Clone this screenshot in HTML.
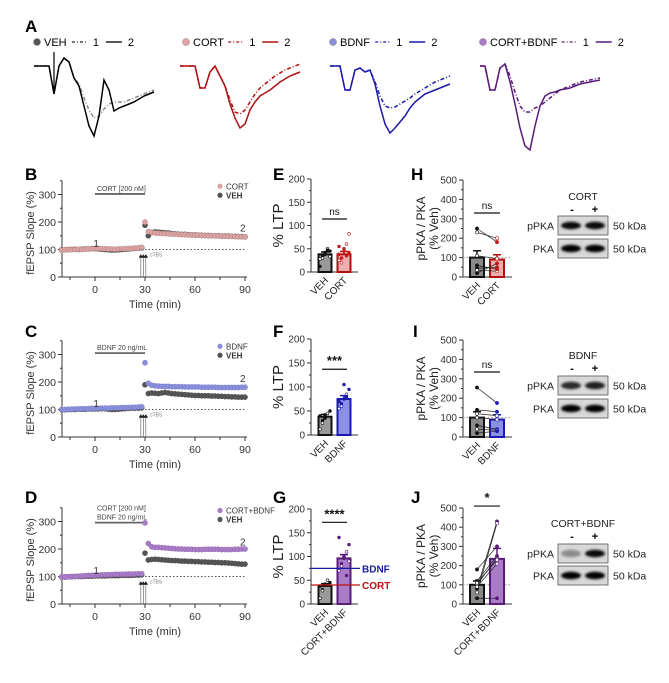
<!DOCTYPE html>
<html><head><meta charset="utf-8"><style>
body{margin:0;background:#fff}
svg{display:block;font-family:"Liberation Sans",Arial,sans-serif}
</style></head><body>
<svg id="fig" width="669" height="683" viewBox="0 0 669 683" xmlns="http://www.w3.org/2000/svg">
<defs><filter id="blur" x="-20%" y="-50%" width="140%" height="200%"><feGaussianBlur stdDeviation="1.3"/></filter></defs>
<g font-weight="bold" font-size="17" fill="#000">
<text x="25" y="32">A</text>
<text x="25" y="180">B</text>
<text x="25" y="337">C</text>
<text x="25" y="503">D</text>
<text x="273" y="180">E</text>
<text x="273" y="337">F</text>
<text x="273" y="503">G</text>
<text x="411" y="180">H</text>
<text x="413" y="337">I</text>
<text x="411" y="503">J</text>
</g>
</svg>
<script>
const NS='http://www.w3.org/2000/svg';
const svg=document.getElementById('fig');
function mk(tag,attrs,parent){const e=document.createElementNS(NS,tag);for(const k in attrs)e.setAttribute(k,attrs[k]);(parent||svg).appendChild(e);return e;}
function txt(x,y,s,attrs,parent){const e=mk('text',Object.assign({x:x,y:y},attrs||{}),parent);e.textContent=s;return e;}

/* ---------- Panel A trace data ---------- */
const traceT=[0,5,10,15,20,25,30,35,40,45,50,55,60,65,70,75,80,85,90,95,100,105,110,115,120];
const vehSolid=[0,0,0,0,-28,0,8,4,-12,-20,-40,-60,-70,-50,-14,-24,-45,-42,-40,-38,-36,-33,-30,-28,-26];
const vehDash=[0,0,0,0,-28,0,8,4,-12,-18,-32,-44,-52,-50,-43,-38,-36,-36,-36,-34,-32,-30,-28,-26,-24];
const cortSolid=[0,0,0,0,-22,-22,-6,0,-10,-20,-38,-52,-62,-58,-44,-36,-30,-27,-24,-20,-16,-13,-10,-8,-6];
const cortDash=[0,0,0,0,-22,-22,-6,0,-10,-20,-34,-46,-48,-44,-36,-28,-22,-18,-14,-10,-7,-4,-2,0,2];
const bdnfSolid=[0,0,0,-24,-24,-4,-2,-6,-4,-18,-40,-58,-67,-62,-56,-50,-42,-36,-32,-28,-26,-24,-22,-20,-18];
const bdnfDash=[0,0,0,-24,-24,-4,-2,-6,-4,-16,-30,-40,-42,-41,-38,-35,-32,-28,-25,-22,-19,-16,-14,-12,-10];
const cbSolid=[0,0,-24,-24,-2,2,-16,-38,-62,-80,-84,-60,-40,-30,-27,-26,-24,-23,-22,-20,-18,-17,-16,-15,-14];
const cbDash=[0,0,-24,-24,-2,2,-10,-26,-40,-46,-46,-42,-40,-36,-32,-28,-24,-22,-20,-18,-16,-15,-14,-13,-12];

function trace(x0,yb,arr,color,dash,name){
  const pts=arr.map((v,i)=>(x0+traceT[i])+','+(yb-v)).join(' ');
  const p=mk('polyline',{points:pts,fill:'none',stroke:color,'stroke-width':1.5,'stroke-dasharray':dash?'4,2,1,2':'none'});
  
  
}
function legendA(x,label,color,dot,name){
  const g=mk('g',{});
  
  
  mk('circle',{cx:x,cy:42,r:3.5,fill:dot,stroke:'#777','stroke-width':0.5},g);
  txt(x+7,46,label,{'font-size':11},g);
  const lx=x+13+label.length*7.3;
  mk('line',{x1:lx,y1:42,x2:lx+16,y2:42,stroke:color,'stroke-width':1.3,'stroke-dasharray':'3,2,1,2'},g);
  txt(lx+21,46,'1',{'font-size':11},g);
  mk('line',{x1:lx+34,y1:42,x2:lx+50,y2:42,stroke:color,'stroke-width':1.5},g);
  txt(lx+56,46,'2',{'font-size':11},g);
}
legendA(37,'VEH','#222','#555','legend-veh');
legendA(186,'CORT','#b01010','#e6a3a3','legend-cort');
legendA(333,'BDNF','#1a1aa8','#8c90dc','legend-bdnf');
legendA(483,'CORT+BDNF','#5a1a7a','#a97cc8','legend-cort-bdnf');
trace(34,66,vehDash,'#888',true,'trace-veh-1');
trace(34,66,vehSolid,'#000',false,'trace-veh-2');
const art=mk('line',{x1:54,y1:52,x2:54,y2:94,stroke:'#000','stroke-width':1.2});


trace(180,66,cortDash,'#b01010',true,'trace-cort-1');
trace(180,66,cortSolid,'#b01010',false,'trace-cort-2');
trace(330,66,bdnfDash,'#1a1aa8',true,'trace-bdnf-1');
trace(330,66,bdnfSolid,'#1a1aa8',false,'trace-bdnf-2');
trace(480,66,cbDash,'#5a1a7a',true,'trace-cb-1');
trace(480,66,cbSolid,'#5a1a7a',false,'trace-cb-2');

/* ---------- Time course data (every 2 min from -20 to 90) ---------- */
const timeMin=[-20,-18,-16,-14,-12,-10,-8,-6,-4,-2,0,2,4,6,8,10,12,14,16,18,20,22,24,26,28,30,32,34,36,38,40,42,44,46,48,50,52,54,56,58,60,62,64,66,68,70,72,74,76,78,80,82,84,86,88,90];
const bCort=[98,99,100,99,100,101,100,101,102,103,104,104,103,103,102,102,101,102,103,103,104,104,105,106,108,200,165,162,160,159,158,158,157,156,156,155,154,154,153,153,152,152,151,151,150,150,150,149,149,149,148,148,147,147,146,146];
const bVeh=[99,99,100,100,101,100,101,102,102,103,103,102,101,100,99,98,98,99,100,101,102,103,104,105,106,188,150,162,164,163,162,161,160,158,157,156,155,155,154,153,153,152,152,151,151,150,150,150,149,149,149,148,148,147,147,146];
const cBdnf=[100,100,101,101,102,102,103,103,103,104,104,104,105,105,105,106,106,106,107,107,107,108,108,109,110,270,195,188,186,185,184,184,184,183,183,183,183,182,182,182,182,182,181,181,181,181,181,180,180,180,180,180,180,180,181,181];
const cVeh=[99,99,100,100,100,101,101,101,102,102,102,102,103,103,101,100,100,101,102,103,104,105,105,105,106,190,158,160,159,158,160,162,160,158,157,156,155,154,153,152,151,151,150,150,150,149,149,148,148,147,147,146,146,145,145,145];
const dCb=[98,99,99,100,100,101,102,103,104,104,105,105,106,106,107,107,108,108,108,108,109,109,109,110,110,295,220,208,206,206,205,204,203,202,201,200,200,199,199,199,198,198,198,199,199,199,199,199,198,198,198,198,199,199,200,200];
const dVeh=[98,98,99,99,100,100,100,101,101,101,102,102,102,102,103,103,103,103,104,104,104,104,105,105,106,185,160,162,163,162,161,160,159,158,158,157,156,156,155,155,154,154,153,153,152,152,151,151,150,150,149,148,147,146,145,145];
const timeTicks=[0,30,60,90];
const minorTicks=[-15,15,45,75];
const slopeTicks=[0,100,200,300];

function tsPanel(cfg){
  const g=mk('g',{});
  
  
  const xs=t=>95+t*50/30, ys=v=>cfg.y0-v*cfg.k;
  const ax=mk('path',{d:`M62,${ys(350)}V${cfg.y0}H247`,fill:'none',stroke:'#333','stroke-width':1},g);
  
  
  slopeTicks.forEach(v=>{
    mk('line',{x1:58,x2:62,y1:ys(v),y2:ys(v),stroke:'#333'},g);
    mk('line',{x1:60,x2:62,y1:ys(v+50),y2:ys(v+50),stroke:'#333'},g);
    const t=txt(56,ys(v)+4,String(v),{'font-size':10.5,'text-anchor':'end',fill:'#333'},g);
    
    
  });
  timeTicks.forEach(v=>{
    mk('line',{x1:xs(v),x2:xs(v),y1:cfg.y0,y2:cfg.y0+4,stroke:'#333'},g);
    const t=txt(xs(v),cfg.y0+16,String(v),{'font-size':10.5,'text-anchor':'middle',fill:'#333'},g);
    
    
  });
  minorTicks.forEach(v=>mk('line',{x1:xs(v),x2:xs(v),y1:cfg.y0,y2:cfg.y0+3,stroke:'#333'},g));
  const xt=txt(155,cfg.y0+31,'Time (min)',{'font-size':11,'text-anchor':'middle',fill:'#333'},g);
  
  
  const yt=txt(0,0,'fEPSP Slope (%)',{'font-size':11,'text-anchor':'middle',fill:'#333',transform:`translate(34,${ys(160)}) rotate(-90)`},g);
  
  
  const dl=mk('line',{x1:xs(30),x2:xs(90),y1:ys(100),y2:ys(100),stroke:'#555','stroke-dasharray':'1.5,2'},g);
  
  
  const db=mk('line',{x1:xs(0),x2:xs(30),y1:ys(cfg.barV),y2:ys(cfg.barV),stroke:'#666','stroke-width':1.8},g);
  
  
  cfg.drug.forEach((s,i)=>{const t=txt(xs(0)+2,ys(cfg.barV)-3-(cfg.drug.length-1-i)*9,s,{'font-size':7,fill:'#444'},g);
    
    });
  [27.5,29,30.5].forEach(t=>{
    mk('line',{x1:xs(t),x2:xs(t),y1:ys(70),y2:cfg.y0,stroke:'#555','stroke-width':0.6},g);
    mk('path',{d:`M${xs(t)-2.2},${ys(70)}L${xs(t)},${ys(83)}L${xs(t)+2.2},${ys(70)}Z`,fill:'#222'},g);
  });
  txt(xs(33),ys(74),'cTBS',{'font-size':5,fill:'#777'},g);
  cfg.series.forEach(s=>{
    const sg=mk('g',{},g);
    
    
    timeMin.forEach((t,i)=>{mk('circle',{cx:xs(t),cy:ys(s.vals[i]),r:2.6,fill:s.fill,stroke:s.stroke,'stroke-width':0.4},sg);});
  });
  const l1=txt(xs(-1),ys(110),'1',{'font-size':10,fill:'#333'},g);
  
  
  const l2=txt(xs(87),ys(cfg.end2),'2',{'font-size':10,fill:'#333'},g);
  
  
  cfg.legend.forEach((l,i)=>{
    const lg=mk('g',{},g);
    
    
    mk('circle',{cx:220,cy:ys(cfg.legY)+i*9,r:2.6,fill:l[1]},lg);
    txt(226,ys(cfg.legY)+i*9+3,l[0],{'font-size':8,fill:'#333','font-weight':i?'bold':'normal'},lg);
  });
}
tsPanel({name:'panel-b-timecourse',y0:277,k:0.275,barV:302,drug:['CORT [200 nM]'],end2:165,legY:330,
  series:[{name:'series-veh',vals:bVeh,fill:'#555',stroke:'#444'},{name:'series-cort',vals:bCort,fill:'#d9a3a3',stroke:'#b07878'}],
  legend:[['CORT','#d9a3a3'],['VEH','#555']]});
tsPanel({name:'panel-c-timecourse',y0:437,k:0.275,barV:305,drug:['BDNF 20 ng/mL'],end2:200,legY:330,
  series:[{name:'series-veh',vals:cVeh,fill:'#555',stroke:'#444'},{name:'series-bdnf',vals:cBdnf,fill:'#8c90dc',stroke:'#6a6ec0'}],
  legend:[['BDNF','#8c90dc'],['VEH','#555']]});
tsPanel({name:'panel-d-timecourse',y0:604,k:0.275,barV:296,drug:['CORT [200 nM]','BDNF 20 ng/mL'],end2:213,legY:340,
  series:[{name:'series-veh',vals:dVeh,fill:'#555',stroke:'#444'},{name:'series-cort-bdnf',vals:dCb,fill:'#a97cc8',stroke:'#8a5aa8'}],
  legend:[['CORT+BDNF','#a97cc8'],['VEH','#555']]});

/* ---------- Bar data ---------- */
const ltpCats=['VEH','CORT','BDNF','CORT+BDNF'];
const ltpMeanE=[38,38];
const ltpSemE=[5,6];
const ltpPtsE=[[28,35,42,50,45,12,30,38,47,33],[25,30,50,60,42,38,20,45,35,82,55,30]];
const ltpMeanF=[38,75];
const ltpSemF=[5,7];
const ltpPtsF=[[12,30,35,45,50,40,25,42],[55,65,75,85,95,70,60,105,80]];
const ltpMeanG=[38,96];
const ltpSemG=[5,8];
const ltpPtsG=[[12,30,40,50,45,38,28,42],[70,85,96,110,125,140,80,100,60,90]];
const ltpTicks=[0,50,100,150,200];
const pkaMeanH=[100,90];
const pkaSemH=[35,25];
const pkaPairsH=[[250,180],[230,200],[45,50],[35,30],[20,70],[110,95],[60,40]];
const pkaMeanI=[100,90];
const pkaSemI=[30,25];
const pkaPairsI=[[255,175],[120,110],[60,40],[40,35],[20,30],[100,90],[140,130]];
const pkaMeanJ=[100,235];
const pkaSemJ=[20,55];
const pkaPairsJ=[[80,430],[60,420],[180,300],[100,240],[120,250],[90,210],[30,30],[110,230]];
const pkaTicks=[0,100,200,300,400,500];

function barPanel(cfg){
  const g=mk('g',{});
  
  
  const ys=v=>cfg.y0-v*cfg.k;
  const ax=cfg.ax, top=cfg.ticks[cfg.ticks.length-1], step=cfg.ticks[1]-cfg.ticks[0];
  const a=mk('path',{d:`M${ax},${ys(top)}V${cfg.y0}H${ax+cfg.w}`,fill:'none',stroke:'#333'},g);
  
  
  cfg.ticks.forEach((v,i)=>{
    mk('line',{x1:ax-4,x2:ax,y1:ys(v),y2:ys(v),stroke:'#333'},g);
    if(i<cfg.ticks.length-1) mk('line',{x1:ax-2,x2:ax,y1:ys(v+step/2),y2:ys(v+step/2),stroke:'#333'},g);
    const t=txt(ax-6,ys(v)+3.5,String(v),{'font-size':10,'text-anchor':'end',fill:'#333'},g);
    
    
  });
  cfg.ylab.forEach((s,i)=>{const t=txt(0,0,s,{'font-size':cfg.ylabSize,'text-anchor':'middle',fill:'#222',transform:`translate(${cfg.ylabX+i*13},${ys(top/2)}) rotate(-90)`},g);
    
    });
  if(cfg.dotted){const d=mk('line',{x1:ax,x2:ax+cfg.w,y1:ys(100),y2:ys(100),stroke:'#999','stroke-dasharray':'1.5,2'},g);
    
    }
  const cx=cfg.cx, bw=cfg.bw;
  cfg.means.forEach((m,i)=>{
    const b=mk('rect',{x:cx[i]-bw/2,y:ys(m),width:bw,height:m*cfg.k,fill:cfg.fills[i],stroke:cfg.strokes[i],'stroke-width':2},g);
    
    
    const e=mk('path',{d:`M${cx[i]},${ys(m)}V${ys(m+cfg.sems[i])}M${cx[i]-4},${ys(m+cfg.sems[i])}H${cx[i]+4}`,stroke:cfg.strokes[i],'stroke-width':1.5},g);
    
    
    const t=txt(0,0,cfg.labels[i],{'font-size':10,'text-anchor':'end',fill:'#222',transform:`translate(${cx[i]+4},${cfg.y0+9}) rotate(-45)`},g);
    
    
  });
  if(cfg.pts){cfg.pts.forEach((arr,i)=>arr.forEach((v,j)=>{
    const open=j%3===0;
    const p=mk('circle',{cx:cx[i]-5+(j%5)*2.5,cy:ys(v),r:1.4,fill:open?'#fff':cfg.dots[i],stroke:cfg.dots[i],'stroke-width':0.6},g);
    
    }));}
  if(cfg.pairs){cfg.pairs.forEach((pr,j)=>{
    const l=mk('line',{x1:cx[0],y1:ys(pr[0]),x2:cx[1],y2:ys(pr[1]),stroke:'#222','stroke-width':0.7},g);
    
    
    mk('circle',{cx:cx[0],cy:ys(pr[0]),r:1.6,fill:j%2?'#fff':'#111',stroke:'#111','stroke-width':0.6},g);
    mk('circle',{cx:cx[1],cy:ys(pr[1]),r:1.6,fill:j%2?'#fff':cfg.dots[1],stroke:cfg.dots[1],'stroke-width':0.6},g);});}
  const sl=mk('line',{x1:cx[0]-3,x2:cx[1]+3,y1:ys(cfg.sigV),y2:ys(cfg.sigV),stroke:'#111','stroke-width':1.2},g);
  
  
  const st=txt((cx[0]+cx[1])/2,ys(cfg.sigV)-4,cfg.sig,{'font-size':cfg.sig==='ns'?10:13,'font-weight':cfg.sig==='ns'?'normal':'bold','text-anchor':'middle',fill:'#111'},g);
  
  
  return {g:g,ys:ys};
}
const ltpLab=['% LTP'];
const ltpCx=[325,344];
const pkaCx=[477,497];
barPanel({name:'panel-e-ltp',ax:311,w:47,cx:ltpCx,bw:13,y0:272,k:0.465,ticks:ltpTicks,ylab:ltpLab,ylabSize:15,ylabX:283,means:ltpMeanE,sems:ltpSemE,pts:ltpPtsE,
  labels:[ltpCats[0],ltpCats[1]],fills:['#9a9a9a','#eab0b0'],strokes:['#111','#b01010'],dots:['#111','#c01818'],sigV:114,sig:'ns'});
barPanel({name:'panel-f-ltp',ax:311,w:47,cx:ltpCx,bw:13,y0:435,k:0.48,ticks:ltpTicks,ylab:ltpLab,ylabSize:15,ylabX:283,means:ltpMeanF,sems:ltpSemF,pts:ltpPtsF,
  labels:[ltpCats[0],ltpCats[2]],fills:['#9a9a9a','#8a90e4'],strokes:['#111','#1a1ab0'],dots:['#111','#1a1aa8'],sigV:137,sig:'***'});
const G=barPanel({name:'panel-g-ltp',ax:311,w:47,cx:ltpCx,bw:13,y0:604,k:0.475,ticks:ltpTicks,ylab:ltpLab,ylabSize:15,ylabX:283,means:ltpMeanG,sems:ltpSemG,pts:ltpPtsG,
  labels:[ltpCats[0],ltpCats[3]],fills:['#9a9a9a','#a97cc8'],strokes:['#111','#5a1a7a'],dots:['#111','#5a1a7a'],sigV:172,sig:'****'});
const refVals=[75,40];
const refNames=['BDNF','CORT'];
const refCols=['#1a1aa8','#c01010'];
refVals.forEach((v,i)=>{
  const l=mk('line',{x1:311,x2:360,y1:G.ys(v),y2:G.ys(v),stroke:refCols[i],'stroke-width':1.2});
  
  
  const t=txt(362,G.ys(v)+4,refNames[i],{'font-size':10,'font-weight':'bold',fill:refCols[i]});
  
  
});
const pkaLab=['pPKA / PKA','(% Veh)'];
barPanel({name:'panel-h-pka',ax:463,w:49,cx:pkaCx,bw:14,y0:277,k:0.194,ticks:pkaTicks,ylab:pkaLab,ylabSize:12,ylabX:425,means:pkaMeanH,sems:pkaSemH,pairs:pkaPairsH,dotted:true,
  labels:[ltpCats[0],ltpCats[1]],fills:['#8a8a8a','#eab0b0'],strokes:['#111','#b01010'],dots:['#111','#c01818'],sigV:330,sig:'ns'});
barPanel({name:'panel-i-pka',ax:463,w:49,cx:pkaCx,bw:14,y0:437,k:0.194,ticks:pkaTicks,ylab:pkaLab,ylabSize:12,ylabX:425,means:pkaMeanI,sems:pkaSemI,pairs:pkaPairsI,dotted:true,
  labels:[ltpCats[0],ltpCats[2]],fills:['#8a8a8a','#8a90e4'],strokes:['#111','#1a1ab0'],dots:['#111','#1a1aa8'],sigV:335,sig:'ns'});
barPanel({name:'panel-j-pka',ax:463,w:49,cx:pkaCx,bw:14,y0:604,k:0.192,ticks:pkaTicks,ylab:pkaLab,ylabSize:12,ylabX:425,means:pkaMeanJ,sems:pkaSemJ,pairs:pkaPairsJ,dotted:true,
  labels:[ltpCats[0],ltpCats[3]],fills:['#8a8a8a','#a97cc8'],strokes:['#111','#5a1a7a'],dots:['#111','#5a1a7a'],sigV:510,sig:'*'});

/* ---------- Western blots ---------- */
function blot(cfg){
  const g=mk('g',{});
  
  
  const t=txt(583,cfg.y,cfg.title,{'font-size':10.5,'text-anchor':'middle',fill:'#222'},g);
  
  
  txt(572,cfg.y+13,'-',{'font-size':11,'font-weight':'bold','text-anchor':'middle'},g);
  txt(595,cfg.y+13,'+',{'font-size':11,'font-weight':'bold','text-anchor':'middle'},g);
  [['pPKA',cfg.y+cfg.o1,cfg.pInt],['PKA',cfg.y+cfg.o2,[1,1]]].forEach(r=>{
    const rg=mk('g',{},g);
    
    
    mk('rect',{x:558,y:r[1],width:50,height:19,fill:'#d8d8d8',stroke:'#555','stroke-width':0.8},rg);
    [571,595].forEach((x,i)=>mk('ellipse',{cx:x,cy:r[1]+9.5,rx:10,ry:3.8,fill:'#000','fill-opacity':r[2][i],filter:'url(#blur)'},rg));
    txt(554,r[1]+13.5,r[0],{'font-size':10.5,'text-anchor':'end',fill:'#222'},rg);
    txt(613,r[1]+13.5,'50 kDa',{'font-size':10.5,fill:'#222'},rg);
  });
}
blot({name:'blot-h',y:200,o1:16,o2:39,title:'CORT',pInt:[0.95,0.95]});
blot({name:'blot-i',y:359,o1:17,o2:40,title:'BDNF',pInt:[0.8,0.85]});
blot({name:'blot-j',y:527,o1:17,o2:39,title:'CORT+BDNF',pInt:[0.35,0.95]});
</script>
</body></html>
